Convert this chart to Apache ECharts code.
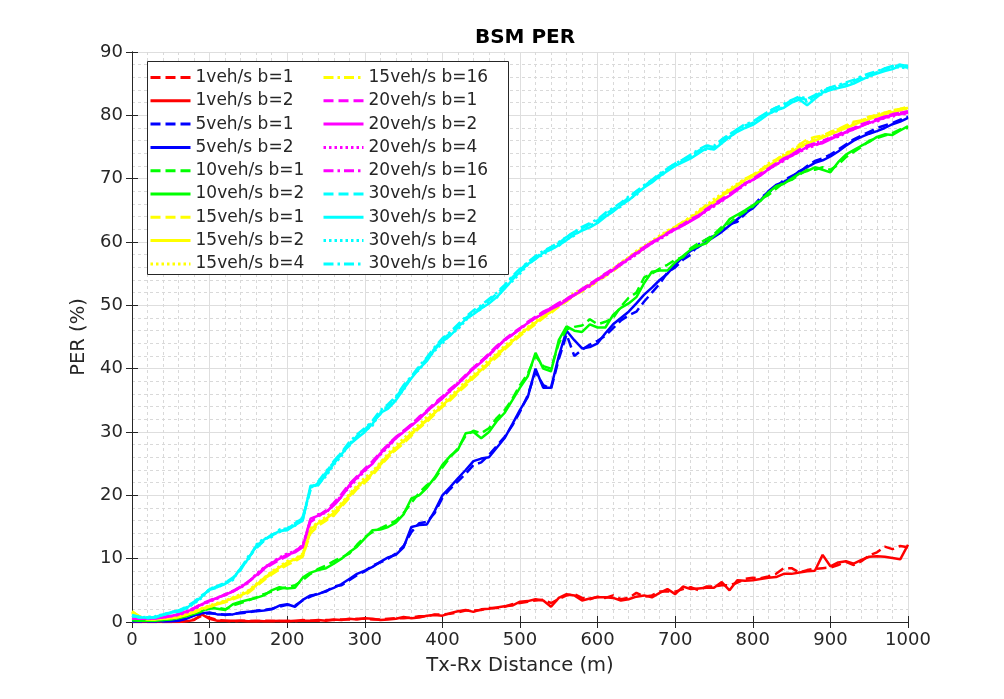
<!DOCTYPE html>
<html>
<head>
<meta charset="utf-8">
<title>BSM PER</title>
<script src="https://cdn.jsdelivr.net/npm/echarts@6/dist/echarts.min.js"></script>
<style>
  html, body { margin: 0; padding: 0; background: #fff; }
  #chart { width: 1004px; height: 699px; }
</style>
</head>
<body>
<div id="chart"></div>
<script>
// distance samples, every 10 m
var dist = [];
for (var d = 0; d <= 1000; d += 10) dist.push(d);

// PER (%), one value per 10 m
var v1b1 = [0,0,0,0,0,0,0.1,0.2,0.4,1.0, 0.7,0.3,0.2,0.1,0.2,0.2,0.1,0.2,0.2,0.1, 0.2,0.1,0.3,0.2,0.2,0.3,0.3,0.4,0.4,0.5, 0.5,0.4,0.4,0.5,0.6,0.6,0.7,0.9,0.9,1.2, 1.2,1.3,1.5,1.8,1.8,1.9,2.2,2.2,2.4,2.8, 3.0,3.2,3.4,3.5,3.0,3.6,4.2,4.4,3.8,3.6, 4.0,3.8,4.2,3.6,3.8,4.6,4.0,4.2,4.8,4.8, 4.8,5.2,5.5,5.0,5.6,5.6,5.8,5.8,6.2,6.8, 7.0,6.9,7.2,7.6,8.5,8.5,7.8,8.2,8.4,8.5, 8.6,9.0,9.5,9.0,9.6,10.5,11.0,11.9,11.5,12.0, 11.8];
var v1b2 = [0,0,0,0,0,0,0,0.1,0.3,1.2, 0.5,0.2,0.2,0.2,0.2,0.1,0.2,0.1,0.1,0.2, 0.1,0.2,0.2,0.2,0.3,0.2,0.4,0.3,0.5,0.4, 0.6,0.5,0.3,0.4,0.5,0.8,0.6,0.7,1.0,1.1, 1.0,1.4,1.7,1.9,1.6,2.0,2.1,2.3,2.5,2.6, 3.2,3.3,3.6,3.4,2.4,3.8,4.4,4.2,3.4,3.7, 3.9,3.9,3.8,3.4,3.6,4.0,4.2,3.9,4.6,5.2, 4.4,5.6,5.2,5.3,5.4,5.4,6.3,5.0,6.6,6.5, 6.6,6.8,7.0,7.1,7.6,7.6,7.8,8.0,8.1,10.6, 8.8,9.4,9.6,9.2,9.8,10.3,10.4,10.3,10.1,9.9, 12.2];
var v5b1 = [0.1,0.1,0.1,0.1,0.1,0.2,0.3,0.6,1.1,1.3, 1.4,1.3,1.1,1.3,1.4,1.5,1.8,1.9,2.1,2.4, 2.7,2.6,3.4,4.0,4.5,4.8,5.6,5.8,6.6,7.4, 8.0,8.9,9.4,10.0,10.8,12.0,14.2,15.6,15.8,17.2, 19.6,21.0,22.2,23.4,24.8,25.2,26.4,27.8,29.2,31.0, 33.2,35.8,39.5,37.4,36.8,41.5,45.4,42.0,43.0,43.8, 44.4,45.2,46.4,47.6,48.4,49.0,50.6,52.0,53.4,55.2, 56.0,57.2,58.0,59.6,60.4,61.0,61.8,62.8,63.2,64.4, 65.6,67.0,67.8,68.6,69.8,70.4,71.0,72.0,72.8,73.2, 73.8,74.6,75.4,76.2,76.8,77.4,78.0,78.4,78.8,79.3, 79.8];
var v5b2 = [0.1,0.1,0.1,0.1,0.1,0.1,0.2,0.5,1.0,1.4, 1.5,1.2,1.2,1.2,1.5,1.6,1.7,1.8,2.0,2.6, 2.8,2.4,3.5,4.2,4.4,4.9,5.4,6.0,6.8,7.6, 8.1,8.7,9.5,10.2,10.6,11.8,15.0,15.3,15.4,17.5, 20.0,21.3,22.7,24.0,25.4,25.8,26.0,27.5,29.0,31.2, 33.5,35.5,40.0,37.0,37.0,42.0,46.0,44.5,43.2,43.4, 44.0,45.6,47.0,48.0,49.0,50.3,51.7,52.8,54.0,55.0, 56.4,57.6,58.6,59.2,60.0,60.8,61.6,62.6,63.6,64.6, 65.3,66.6,68.0,69.0,69.5,70.2,71.2,71.8,72.5,72.9, 73.5,74.3,75.2,76.0,76.6,77.1,77.5,78.0,78.6,79.0, 79.6];
var v10b1 = [0.3,0.2,0.2,0.3,0.3,0.5,0.7,1.0,1.4,1.8, 2.1,2.3,2.0,2.6,3.0,3.4,3.9,4.4,4.8,5.2, 5.5,5.8,6.6,7.6,8.4,8.9,9.6,10.2,10.8,12.2, 13.4,14.2,14.8,15.4,16.0,17.2,18.8,20.4,21.6,22.6, 24.4,26.0,27.4,29.4,30.2,29.8,30.6,32.2,33.4,35.2, 37.4,39.2,42.0,40.4,40.0,44.0,46.2,46.6,46.8,47.8, 47.0,47.4,48.0,49.8,51.2,52.0,54.4,55.0,55.8,56.4, 57.2,57.6,59.0,59.8,60.4,61.2,62.4,63.0,64.0,64.8, 65.6,66.8,67.4,68.4,69.4,69.8,70.6,71.4,71.4,71.8, 71.4,72.2,73.4,74.2,75.0,76.0,76.4,76.8,77.2,77.8, 78.0];
var v10b2 = [0.3,0.2,0.2,0.2,0.3,0.4,0.6,0.9,1.3,1.7, 2.3,2.1,1.9,2.8,3.2,3.5,3.8,4.2,5.0,5.5, 5.3,5.4,7.0,7.8,8.2,8.5,9.2,10.0,11.0,11.9, 13.2,14.5,14.6,15.0,15.7,17.0,19.5,20.0,21.2,22.8, 24.8,26.2,27.2,29.8,30.0,29.0,30.0,31.7,33.0,35.0, 37.0,38.8,42.5,40.0,39.6,44.5,46.7,46.0,45.8,47.0, 46.5,46.5,48.5,49.6,50.3,51.3,53.5,55.3,55.5,55.5, 56.8,57.8,58.8,59.4,59.8,61.0,62.0,63.6,64.3,65.0, 65.8,66.5,67.8,68.8,69.2,70.0,70.8,71.2,71.8,71.4, 71.0,72.6,73.8,74.5,75.2,75.8,76.6,77.0,76.9,77.6, 78.3];
var v15b1 = [1.6,0.9,0.5,0.4,0.5,0.7,0.9,1.2,1.5,2.0, 2.4,2.8,3.1,3.6,4.0,4.6,5.6,6.6,7.5,8.3, 9.0,9.6,10.3,14.0,15.2,16.0,16.8,18.2,19.6,21.0, 22.0,23.2,24.6,26.0,27.2,28.2,29.4,30.6,31.6,32.8, 34.0,35.0,36.2,37.3,38.5,39.6,40.8,41.8,43.0,44.1, 45.2,46.1,47.0,48.0,48.8,49.8,50.6,51.6,52.2,53.0, 53.8,54.6,55.6,56.4,57.4,58.2,59.0,60.0,60.6,61.4, 62.4,63.2,63.6,64.8,65.8,66.2,67.6,68.2,69.0,70.0, 70.6,71.4,72.2,73.0,73.8,74.4,75.4,76.2,76.6,76.8, 77.4,77.8,78.4,79.0,79.2,79.8,80.0,80.4,80.8,81.0, 81.4];
var v15b2 = [1.7,0.8,0.4,0.4,0.5,0.6,0.8,1.1,1.6,2.1, 2.5,2.9,3.3,3.7,4.2,4.8,5.8,6.9,7.8,8.6, 9.4,9.9,10.6,14.6,15.6,16.3,17.2,18.6,20.0,21.3, 22.4,23.5,25.0,26.3,27.5,28.6,29.8,30.8,32.0,33.0, 34.2,35.3,36.5,37.7,38.8,39.8,41.0,42.2,43.3,44.3, 45.4,46.4,47.3,48.2,49.0,50.0,50.8,51.6,52.4,53.2, 54.0,54.8,55.6,56.6,57.5,58.4,59.2,60.0,60.8,61.6, 62.3,63.0,63.8,64.7,65.6,66.4,67.3,68.0,68.9,69.8, 70.4,71.2,72.0,72.8,73.5,74.2,75.0,75.6,76.0,76.5, 77.0,77.5,78.0,78.5,79.0,79.4,79.8,80.2,80.5,80.8, 81.2];
var v15b4 = [1.4,0.7,0.5,0.5,0.6,0.7,0.9,1.3,1.7,2.2, 2.6,3.0,3.4,3.9,4.4,5.0,6.0,7.0,8.0,8.8, 9.6,10.0,10.8,14.8,15.8,16.6,17.6,18.8,20.2,21.6, 22.8,23.8,25.2,26.6,27.8,29.0,30.2,31.2,32.4,33.4, 34.6,35.6,36.8,38.0,39.0,40.2,41.4,42.4,43.6,44.6, 45.6,46.6,47.6,48.4,49.4,50.2,51.0,52.0,52.6,53.4, 54.2,55.0,55.8,56.8,57.6,58.6,59.4,60.2,61.0,61.8, 62.4,63.2,64.0,65.0,65.8,66.8,67.6,68.4,69.2,70.0, 70.6,71.4,72.4,73.0,73.8,74.6,75.2,75.8,76.4,76.8, 77.2,77.8,78.2,78.8,79.2,79.6,80.2,80.4,80.8,81.0, 81.0];
var v15b16 = [1.5,0.8,0.4,0.5,0.5,0.6,0.8,1.2,1.6,2.0, 2.4,2.8,3.2,3.8,4.2,4.9,5.8,6.8,7.6,8.5, 9.2,9.8,10.4,14.2,15.4,16.2,17.0,18.4,19.8,21.2, 22.2,23.4,24.8,26.2,27.2,28.4,29.6,30.8,31.8,33.0, 34.0,35.2,36.4,37.6,38.6,39.8,40.8,42.0,43.2,44.4, 45.2,46.4,47.2,48.2,49.0,49.8,50.8,51.6,52.4,53.2, 54.0,54.8,55.4,56.4,57.4,58.4,59.2,60.0,60.8,61.6, 62.2,63.0,64.0,64.6,65.6,66.4,67.2,68.2,69.0,69.6, 70.4,71.0,71.8,72.6,73.6,74.2,74.8,75.6,76.2,76.6, 77.0,77.6,78.2,78.6,79.2,79.6,80.0,80.2,80.6,81.0, 81.2];
var v20b1 = [0.7,0.5,0.6,0.6,0.8,1.0,1.3,1.7,2.2,2.9, 3.4,3.9,4.2,4.9,5.6,6.4,7.2,8.3,9.1,9.8, 10.4,11.2,12.0,15.8,16.6,17.6,18.8,20.2,21.8,23.0, 24.2,25.4,26.8,28.0,29.2,30.2,31.2,32.4,33.4,34.6, 35.6,36.8,37.8,39.0,40.2,41.2,42.4,43.6,44.6,45.6, 46.4,47.4,48.2,49.0,49.6,50.4,51.0,51.8,52.6,53.4, 54.2,55.0,55.8,56.6,57.4,58.4,59.2,60.0,60.6,61.4, 62.2,62.8,63.6,64.2,65.2,66.0,66.8,67.6,68.4,69.2, 70.0,70.8,71.6,72.4,73.2,73.8,74.6,75.2,75.6,75.8, 76.6,77.0,77.6,78.0,78.6,79.0,79.4,79.8,80.2,80.4, 80.6];
var v20b2 = [0.6,0.5,0.5,0.6,0.7,0.9,1.2,1.6,2.1,2.8, 3.3,3.8,4.3,4.8,5.5,6.3,7.4,8.5,9.3,10.0, 10.6,11.0,11.8,16.3,16.8,17.4,18.4,19.8,21.5,22.8, 24.0,25.0,26.6,27.8,29.0,30.0,31.0,32.0,33.3,34.3, 35.3,36.5,37.6,38.8,40.0,41.0,42.2,43.4,44.5,45.3, 46.3,47.2,48.0,48.7,49.4,50.0,50.8,51.6,52.4,53.2, 54.0,54.8,55.6,56.4,57.3,58.2,59.0,59.8,60.6,61.3, 62.0,62.6,63.3,64.0,65.0,65.8,66.6,67.3,68.2,69.3, 69.8,70.5,71.5,72.2,73.0,73.6,74.3,75.0,75.4,75.6, 76.2,76.8,77.3,77.8,78.3,78.8,79.2,79.6,80.0,80.2, 80.4];
var v20b4 = [0.6,0.6,0.5,0.7,0.7,0.9,1.1,1.5,2.0,2.7, 3.2,3.7,4.4,4.9,5.4,6.2,7.6,8.6,9.4,10.2, 10.8,11.2,12.2,16.0,17.0,17.2,18.6,20.0,21.2,22.6, 23.8,25.2,26.4,27.6,29.0,30.2,31.0,32.2,33.2,34.4, 35.4,36.4,37.8,38.8,40.0,41.2,42.0,43.4,44.4,45.4, 46.2,47.2,48.0,48.8,49.6,50.2,50.8,51.6,52.4,53.0, 54.0,54.6,55.6,56.4,57.2,58.0,59.0,59.8,60.4,61.2, 62.0,62.8,63.4,64.2,64.8,65.8,66.4,67.4,68.2,69.0, 69.8,70.6,71.4,72.2,72.8,73.6,74.2,74.8,75.2,75.8, 76.4,76.6,77.2,77.8,78.4,78.8,79.0,79.6,79.8,80.2, 80.2];
var v20b16 = [0.6,0.5,0.6,0.6,0.7,1.0,1.2,1.7,2.2,2.8, 3.4,3.8,4.4,4.8,5.6,6.4,7.4,8.4,9.4,10.0, 10.6,11.2,12.0,16.2,16.8,17.6,18.4,19.8,21.6,23.0, 24.0,25.2,26.6,28.0,29.2,30.0,31.2,32.2,33.2,34.4, 35.4,36.6,37.6,38.8,40.2,41.2,42.2,43.2,44.6,45.4, 46.2,47.2,48.2,48.8,49.6,50.2,51.0,51.8,52.4,53.4, 54.0,55.0,55.6,56.6,57.4,58.2,59.0,60.0,60.6,61.4, 62.0,62.6,63.4,64.2,65.0,65.6,66.6,67.4,68.4,69.2, 69.8,70.6,71.4,72.4,73.0,73.8,74.4,75.0,75.6,76.0, 76.4,76.8,77.4,78.0,78.4,78.8,79.4,79.8,80.0,80.4, 80.6];
var v30b1 = [1.1,0.8,0.6,0.8,1.1,1.4,1.8,2.4,3.2,4.2, 5.0,5.7,6.2,7.0,8.2,10.2,11.6,12.8,13.8,14.2, 14.8,15.6,16.4,20.8,22.0,23.6,25.4,26.8,27.8,29.4, 30.4,31.6,32.8,34.2,35.4,37.2,38.6,40.2,41.6,43.2, 44.6,45.6,46.8,48.0,48.8,49.8,50.8,51.8,53.0,54.4, 55.6,56.8,57.6,58.4,59.2,59.8,60.8,61.6,62.2,62.8, 63.4,64.4,65.2,66.0,67.0,68.0,68.8,69.8,70.6,71.6, 72.4,73.0,73.6,74.4,75.2,75.0,76.0,77.0,77.8,78.4, 78.8,79.8,80.6,81.2,81.6,82.4,82.8,82.4,83.0,83.8, 84.4,84.6,85.0,85.4,86.0,86.4,86.8,87.4,87.6,88.0, 87.8];
var v30b2 = [1.0,0.7,0.7,0.8,1.2,1.5,1.6,2.2,3.0,4.0, 5.2,5.5,6.0,6.8,8.5,10.0,12.0,13.0,13.6,14.4, 14.5,15.3,16.0,21.5,21.6,23.3,25.0,26.5,28.0,29.0, 30.0,31.3,33.0,33.7,35.0,36.8,38.5,40.0,41.2,43.0, 44.3,45.2,46.5,47.8,48.6,49.5,50.3,51.3,52.6,54.0, 55.3,56.5,57.3,58.3,58.8,59.5,60.3,61.2,61.8,62.3, 63.0,64.0,64.8,65.8,66.6,67.6,68.6,69.4,70.4,71.2, 72.0,72.6,73.2,74.0,74.8,74.6,75.6,76.6,77.4,78.0, 78.5,79.3,80.2,80.8,81.2,82.0,82.5,81.6,82.6,83.6, 84.0,84.3,84.6,85.0,85.6,86.2,86.6,87.0,87.3,87.8, 87.5];
var v30b4 = [0.9,0.7,0.8,0.9,1.2,1.5,1.7,2.1,2.9,3.8, 5.3,5.6,6.1,6.6,8.6,9.8,12.2,13.2,13.4,14.6, 14.8,15.2,16.2,21.2,21.8,23.0,24.8,26.2,28.2,29.2, 30.2,31.0,33.2,34.0,35.2,36.6,38.8,39.8,41.4,42.8, 44.0,45.4,46.2,47.6,48.8,49.4,50.6,51.2,52.8,53.8, 55.0,56.4,57.4,58.0,59.0,59.4,60.4,61.0,62.0,62.6, 63.2,64.2,65.0,65.6,66.8,67.4,68.8,69.6,70.2,71.4, 72.2,72.8,73.4,74.2,74.6,74.8,75.8,76.4,77.6,78.2, 78.6,79.6,80.4,80.6,81.4,82.2,82.4,82.2,82.8,83.4, 84.2,84.4,84.8,85.2,85.8,86.0,86.8,87.2,87.6,87.6, 87.4];
var v30b16 = [1.0,0.8,0.7,0.7,1.1,1.6,1.8,2.3,3.1,4.1, 5.1,5.4,6.2,6.9,8.4,10.4,11.8,12.8,13.8,14.2, 14.6,15.6,16.6,21.0,22.2,23.8,25.2,26.8,28.4,29.6, 30.6,31.8,33.4,34.4,35.6,37.4,38.8,40.4,41.8,43.4, 44.8,45.8,47.0,48.2,49.2,50.0,51.0,52.0,53.2,54.6, 55.8,56.8,57.8,58.6,59.2,60.0,60.8,61.6,62.4,63.0, 63.6,64.6,65.4,66.2,67.2,68.0,69.0,69.8,70.8,71.6, 72.4,73.0,73.8,74.6,75.2,75.2,76.2,77.0,77.8,78.6, 79.0,79.8,80.6,81.2,81.8,82.4,83.0,82.6,83.2,84.0, 84.4,84.8,85.2,85.6,86.2,86.6,87.0,87.4,87.8,88.0, 87.8];

var DASH = [10, 5], DOT = [2.5, 3], DASHDOT = [10, 4, 2.5, 4];

// name, colour, line type, values
var lines = [
    ['1veh/s b=1', '#ff0000', DASH, v1b1],
    ['1veh/s b=2', '#ff0000', 'solid', v1b2],
    ['5veh/s b=1', '#0000ff', DASH, v5b1],
    ['5veh/s b=2', '#0000ff', 'solid', v5b2],
    ['10veh/s b=1', '#00ff00', DASH, v10b1],
    ['10veh/s b=2', '#00ff00', 'solid', v10b2],
    ['15veh/s b=1', '#ffff00', DASH, v15b1],
    ['15veh/s b=2', '#ffff00', 'solid', v15b2],
    ['15veh/s b=4', '#ffff00', DOT, v15b4],
    ['15veh/s b=16', '#ffff00', DASHDOT, v15b16],
    ['20veh/s b=1', '#ff00ff', DASH, v20b1],
    ['20veh/s b=2', '#ff00ff', 'solid', v20b2],
    ['20veh/s b=4', '#ff00ff', DOT, v20b4],
    ['20veh/s b=16', '#ff00ff', DASHDOT, v20b16],
    ['30veh/s b=1', '#00ffff', DASH, v30b1],
    ['30veh/s b=2', '#00ffff', 'solid', v30b2],
    ['30veh/s b=4', '#00ffff', DOT, v30b4],
    ['30veh/s b=16', '#00ffff', DASHDOT, v30b16]
];

var axisColor = '#262626';
var series = [];
var names = [];
for (var i = 0; i < lines.length; i++) {
    var pts = [];
    for (var k = 0; k < dist.length; k++) {
        pts.push([dist[k], lines[i][3][k]]);
    }
    names.push(lines[i][0]);
    series.push({
        name: lines[i][0],
        type: 'line',
        data: pts,
        symbol: 'none',
        showSymbol: false,
        color: lines[i][1],
        lineStyle: { color: lines[i][1], width: 2.5, type: lines[i][2] },
        z: 2,
        animation: false
    });
}

var legendText = { fontSize: 17, color: axisColor, fontFamily: 'DejaVu Sans' };
var boxAxis = function () {
    return {
        axisLine: { show: true, lineStyle: { color: axisColor, width: 1 } },
        axisTick: { show: true, inside: true, length: 6, lineStyle: { color: axisColor } },
        axisLabel: { show: false },
        splitLine: { show: false }
    };
};

var myChart = echarts.init(document.getElementById('chart'));
var option = {
    backgroundColor: '#ffffff',
    animation: false,
    textStyle: { fontFamily: 'DejaVu Sans' },
    title: {
        text: 'BSM PER',
        left: 520,
        top: 23,
        textAlign: 'center',
        textStyle: { fontSize: 20, fontWeight: 'bold', color: '#000', fontFamily: 'DejaVu Sans' }
    },
    grid: { left: 132, right: 96, top: 52, bottom: 77 },
    xAxis: [{
        type: 'value',
        min: 0, max: 1000, interval: 100,
        name: 'Tx-Rx Distance (m)',
        nameLocation: 'middle',
        nameGap: 34,
        nameTextStyle: { fontSize: 19.5, color: axisColor },
        axisLine: { show: true, onZero: false, lineStyle: { color: axisColor, width: 1 } },
        axisTick: { show: true, inside: true, length: 6, lineStyle: { color: axisColor } },
        axisLabel: { fontSize: 18, color: axisColor, margin: 9, formatter: function (v) { return String(v); } },
        splitLine: { show: true, lineStyle: { color: '#dedede', width: 1 } },
        minorTick: { show: false, splitNumber: 5 },
        minorSplitLine: { show: true, lineStyle: { color: '#d9d9d9', width: 1, type: [3, 3] } }
    }, Object.assign({ type: 'value', position: 'top', min: 0, max: 1000, interval: 100 }, boxAxis())],
    yAxis: [{
        type: 'value',
        min: 0, max: 90, interval: 10,
        name: 'PER (%)',
        nameLocation: 'middle',
        nameGap: 27,
        nameTextStyle: { fontSize: 19.5, color: axisColor },
        axisLine: { show: true, onZero: false, lineStyle: { color: axisColor, width: 1 } },
        axisTick: { show: true, inside: true, length: 6, lineStyle: { color: axisColor } },
        axisLabel: { fontSize: 18, color: axisColor, margin: 9 },
        splitLine: { show: true, lineStyle: { color: '#dedede', width: 1 } },
        minorTick: { show: false, splitNumber: 5 },
        minorSplitLine: { show: true, lineStyle: { color: '#d9d9d9', width: 1, type: [3, 3] } }
    }, Object.assign({ type: 'value', position: 'right', min: 0, max: 90, interval: 10 }, boxAxis())],
    graphic: [{
        type: 'rect',
        z: 50,
        shape: { x: 147.5, y: 61.5, width: 361, height: 213 },
        style: { fill: '#ffffff', stroke: axisColor, lineWidth: 1 }
    }],
    legend: [{
        data: names.slice(0, 9),
        orient: 'vertical',
        left: 144, top: 64,
        itemWidth: 40, itemHeight: 14, itemGap: 6.3,
        itemStyle: { opacity: 0 },
        lineStyle: { width: 3 },
        z: 60,
        textStyle: legendText
    }, {
        data: names.slice(9),
        orient: 'vertical',
        left: 317, top: 64,
        itemWidth: 40, itemHeight: 14, itemGap: 6.3,
        itemStyle: { opacity: 0 },
        lineStyle: { width: 3 },
        z: 60,
        textStyle: legendText
    }],
    series: series
};
myChart.setOption(option, true);
window.onresize = function () {
    myChart.resize();
};
</script>
</body>
</html>
